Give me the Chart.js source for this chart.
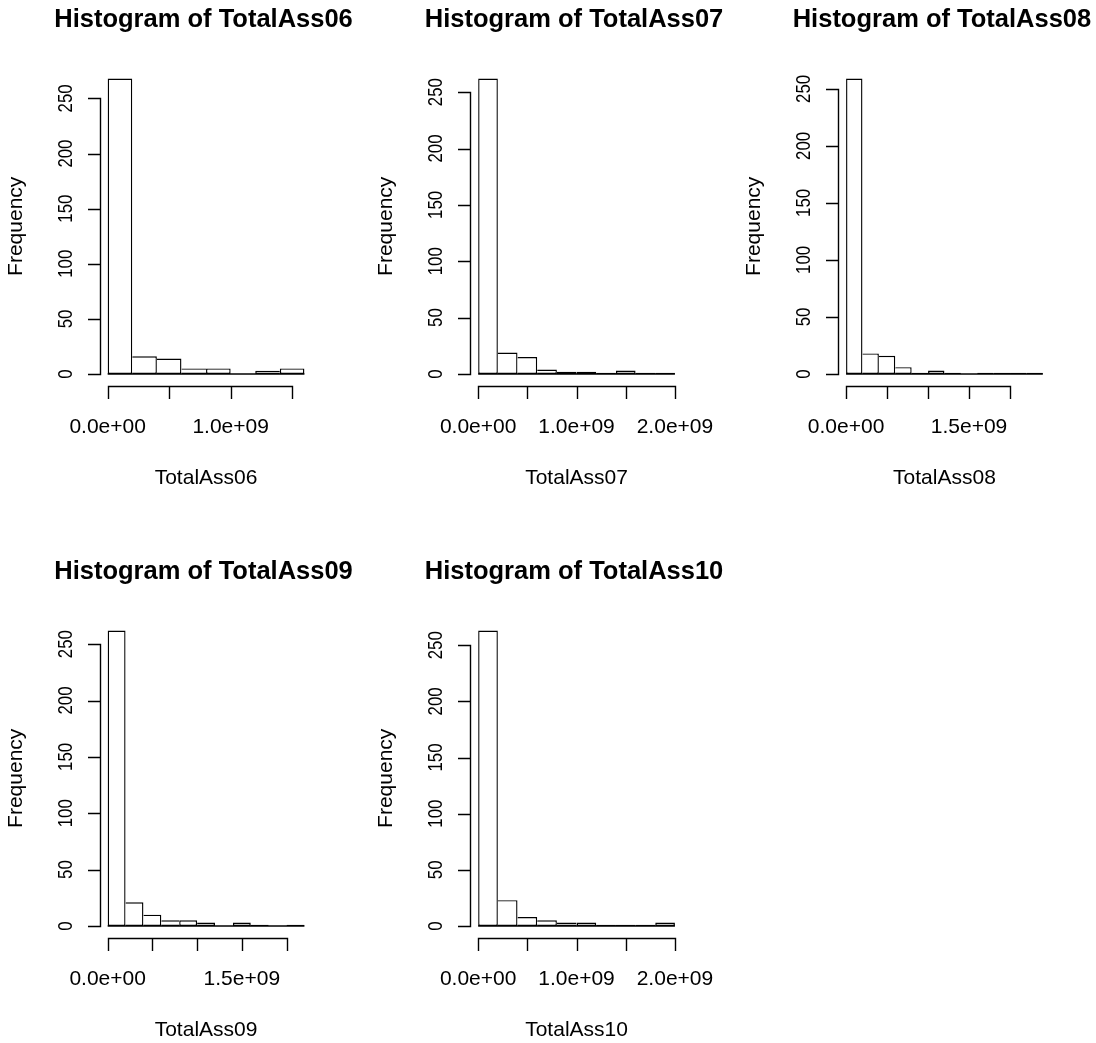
<!DOCTYPE html>
<html>
<head>
<meta charset="utf-8">
<title>Histograms of TotalAss06 – TotalAss10</title>
<script src="https://cdn.jsdelivr.net/npm/chart.js@4.4.1/dist/chart.umd.min.js"></script>
<style>
  html, body { margin: 0; padding: 0; background: #ffffff; }
  #page { position: relative; width: 1096px; height: 1043px; overflow: hidden; background: #ffffff; }
  #page canvas { position: absolute; left: 0; top: 0; }
</style>
</head>
<body>
<div id="page"></div>
<script>
// ---- data -------------------------------------------------------------
const variables = ['TotalAss06', 'TotalAss07', 'TotalAss08', 'TotalAss09', 'TotalAss10'];

// histogram breaks start at 0 and step by 2e8
const firstBreak = 0;
const binWidth = 2e8;

// frequency of each bin
const counts06 = [268, 16, 14, 5, 5, 0, 3, 5];
const counts07 = [262, 19, 15, 4, 2, 2, 1, 3, 1, 1];
const counts08 = [259, 18, 16, 6, 1, 3, 1, 0, 1, 1, 1, 1];
const counts09 = [262, 21, 10, 5, 5, 3, 0, 3, 1, 0, 1];
const counts10 = [263, 23, 8, 5, 3, 3, 1, 1, 1, 3];

// x-axis ticks and the labels that fit between them
const xTicks06 = [0, 5e8, 1e9, 1.5e9];
const xTickLabels06 = ['0.0e+00', '', '1.0e+09', ''];
const xTicks07 = [0, 5e8, 1e9, 1.5e9, 2e9];
const xTickLabels07 = ['0.0e+00', '', '1.0e+09', '', '2.0e+09'];
const xTicks08 = [0, 5e8, 1e9, 1.5e9, 2e9];
const xTickLabels08 = ['0.0e+00', '', '', '1.5e+09', ''];
const xTicks09 = [0, 5e8, 1e9, 1.5e9, 2e9];
const xTickLabels09 = ['0.0e+00', '', '', '1.5e+09', ''];
const xTicks10 = [0, 5e8, 1e9, 1.5e9, 2e9];
const xTickLabels10 = ['0.0e+00', '', '1.0e+09', '', '2.0e+09'];

// y-axis ticks (shared)
const yTicks = [0, 50, 100, 150, 200, 250];
const yTickLabels = ['0', '50', '100', '150', '200', '250'];

// ---- layout -----------------------------------------------------------
const PAGE_W = 1096, PAGE_H = 1043;
const PLOT_W = 212.5, PLOT_H = 319;
// plot regions (left, top) in a 2 x 3 grid
const plotOrigins = [
  [99.8, 66.8], [470.3, 66.8], [838.2, 66.8],
  [99.8, 618.8], [470.3, 618.8]
];

const style = {
  color: '#000000',
  lineWidth: 1.4,
  family: '"Liberation Sans", Arial, Helvetica, sans-serif',
  labelSize: 21,
  titleSize: 25.5,
  yTickLabelStretch: 0.8, // y tick labels run narrower along the axis
  tickLength: 12.5,
  xLabelOffset: 47.5,   // tick label baseline below the plot region
  yLabelOffset: 28.3,   // tick label baseline left of the plot region
  xTitleOffset: 98.5,
  yTitleOffset: 78.3,
  titleOffset: 40.3,    // main title baseline above the plot region
  titleShift: -2.5
};

const histograms = [
  { name: variables[0], counts: counts06, xTicks: xTicks06, xTickLabels: xTickLabels06 },
  { name: variables[1], counts: counts07, xTicks: xTicks07, xTickLabels: xTickLabels07 },
  { name: variables[2], counts: counts08, xTicks: xTicks08, xTickLabels: xTickLabels08 },
  { name: variables[3], counts: counts09, xTicks: xTicks09, xTickLabels: xTickLabels09 },
  { name: variables[4], counts: counts10, xTicks: xTicks10, xTickLabels: xTickLabels10 }
];

// ---- base-graphics style axes, titles and bar bottoms -------------------
const baseGraphics = {
  id: 'baseGraphics',
  afterDatasetsDraw(chart, args, o) {
    const { ctx, chartArea: a, scales: { x, y } } = chart;
    const crisp = v => Math.round(v) + 0.5;
    const half = o.lineWidth / 2;
    ctx.save();
    ctx.strokeStyle = o.color;
    ctx.fillStyle = o.color;
    ctx.lineWidth = o.lineWidth;
    ctx.lineCap = 'butt';

    // common bottom edge of all bars (empty bins included)
    const y0 = y.getPixelForValue(0);
    ctx.beginPath();
    ctx.moveTo(x.getPixelForValue(o.breaks[0]), y0);
    ctx.lineTo(x.getPixelForValue(o.breaks[o.breaks.length - 1]), y0);
    ctx.stroke();

    // x axis: line spans first to last tick, ticks point down
    const xt = x.ticks;
    const ax = crisp(a.bottom);
    ctx.beginPath();
    ctx.moveTo(crisp(x.getPixelForValue(xt[0].value)) - half, ax);
    ctx.lineTo(crisp(x.getPixelForValue(xt[xt.length - 1].value)) + half, ax);
    xt.forEach(t => {
      const px = crisp(x.getPixelForValue(t.value));
      ctx.moveTo(px, ax);
      ctx.lineTo(px, ax + o.tickLength);
    });
    ctx.stroke();

    // y axis: line spans first to last tick, ticks point left
    const yt = y.ticks;
    const ay = crisp(a.left);
    ctx.beginPath();
    ctx.moveTo(ay, crisp(y.getPixelForValue(yt[0].value)) + half);
    ctx.lineTo(ay, crisp(y.getPixelForValue(yt[yt.length - 1].value)) - half);
    yt.forEach(t => {
      const py = crisp(y.getPixelForValue(t.value));
      ctx.moveTo(ay, py);
      ctx.lineTo(ay - o.tickLength, py);
    });
    ctx.stroke();

    // tick labels
    ctx.font = `${o.labelSize}px ${o.family}`;
    ctx.textAlign = 'center';
    ctx.textBaseline = 'alphabetic';
    xt.forEach(t => {
      if (t.label) ctx.fillText(t.label, x.getPixelForValue(t.value), a.bottom + o.xLabelOffset);
    });
    yt.forEach(t => {
      if (!t.label) return;
      ctx.save();
      ctx.translate(a.left - o.yLabelOffset, y.getPixelForValue(t.value));
      ctx.rotate(-Math.PI / 2);
      ctx.scale(o.yTickLabelStretch, 1);
      ctx.fillText(t.label, 0, 0);
      ctx.restore();
    });

    // axis titles
    const cx = (a.left + a.right) / 2;
    const cy = (a.top + a.bottom) / 2;
    ctx.fillText(o.xTitle, cx, a.bottom + o.xTitleOffset);
    ctx.save();
    ctx.translate(a.left - o.yTitleOffset, cy);
    ctx.rotate(-Math.PI / 2);
    ctx.fillText(o.yTitle, 0, 0);
    ctx.restore();

    // main title
    ctx.font = `bold ${o.titleSize}px ${o.family}`;
    ctx.fillText(o.title, cx + o.titleShift, a.top - o.titleOffset);
    ctx.restore();
  }
};

// ---- one chart per variable ---------------------------------------------
const page = document.getElementById('page');

histograms.forEach((h, k) => {
  const n = h.counts.length;
  const breaks = h.counts.map((_, i) => firstBreak + i * binWidth).concat([firstBreak + n * binWidth]);
  const lo = breaks[0], hi = breaks[n];
  const span = hi - lo;
  const maxCount = Math.max(...h.counts);
  const [left, top] = plotOrigins[k];
  const bw = style.lineWidth;

  const canvas = document.createElement('canvas');
  canvas.width = PAGE_W;
  canvas.height = PAGE_H;
  canvas.style.width = PAGE_W + 'px';
  canvas.style.height = PAGE_H + 'px';
  page.appendChild(canvas);

  const counts = h.counts;
  new Chart(canvas.getContext('2d'), {
    type: 'bar',
    data: {
      datasets: [{
        label: h.name,
        data: counts.map((c, i) => ({ x: (breaks[i] + breaks[i + 1]) / 2, y: c })),
        backgroundColor: '#ffffff',
        borderColor: '#000000',
        borderSkipped: false,
        inflateAmount: 0,
        // shared edges between neighbouring bars are drawn once, by the taller bar
        borderWidth: c => {
          const i = c.dataIndex;
          return {
            top: bw,
            bottom: bw,
            left: (i === 0 || counts[i] >= counts[i - 1]) ? bw : 0,
            right: (i === n - 1 || counts[i] > counts[i + 1]) ? bw : 0
          };
        },
        barPercentage: 1,
        categoryPercentage: 1
      }]
    },
    options: {
      responsive: false,
      maintainAspectRatio: false,
      devicePixelRatio: 1,
      animation: false,
      events: [],
      layout: {
        padding: {
          left: left,
          top: top,
          right: PAGE_W - left - PLOT_W,
          bottom: PAGE_H - top - PLOT_H
        }
      },
      scales: {
        x: {
          type: 'linear',
          display: false,
          offset: false,
          bounds: 'data',
          min: lo - 0.04 * span,
          max: hi + 0.04 * span,
          grid: { offset: false },
          afterBuildTicks: s => { s.ticks = h.xTicks.map(v => ({ value: v })); },
          ticks: { callback: (v, i) => h.xTickLabels[i] }
        },
        y: {
          type: 'linear',
          display: false,
          bounds: 'data',
          beginAtZero: false,
          min: -0.04 * maxCount,
          max: 1.04 * maxCount,
          afterBuildTicks: s => { s.ticks = yTicks.map(v => ({ value: v })); },
          ticks: { callback: (v, i) => yTickLabels[i] }
        }
      },
      plugins: {
        legend: { display: false },
        title: { display: false },
        tooltip: { enabled: false },
        baseGraphics: Object.assign({
          breaks: breaks,
          title: 'Histogram of ' + h.name,
          xTitle: h.name,
          yTitle: 'Frequency'
        }, style)
      }
    },
    plugins: [baseGraphics]
  });
});
</script>
</body>
</html>
